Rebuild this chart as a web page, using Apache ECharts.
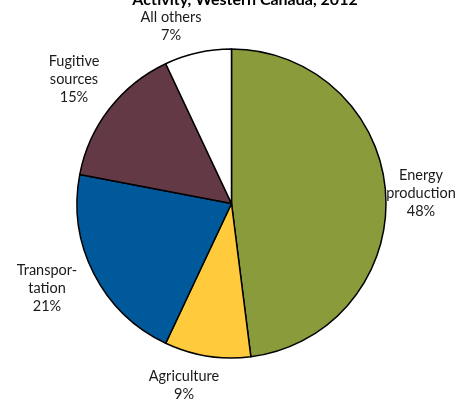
<!DOCTYPE html>
<html><head><meta charset="utf-8">
<script src="https://cdn.jsdelivr.net/npm/echarts@6/dist/echarts.min.js"></script>
<style>html,body{margin:0;padding:0;background:#fff}#c{width:469px;height:399px}</style>
</head><body><div id="c"></div>
<script>
const categories = ['Energy\nproduction', 'Agriculture', 'Transpor-\ntation', 'Fugitive\nsources', 'All others'];
const values = [48, 9, 21, 15, 7];
const colors = ['#8A9B3C', '#FFCB3D', '#00599B', '#633945', '#FFFFFF'];
const labelPos = [[421, 193], [184, 385], [47, 288], [74, 79], [171, 26]];

const chart = echarts.init(document.getElementById('c'), null, {renderer: 'canvas'});
chart.setOption({
  animation: false,
  title: {
    text: 'Activity, Western Canada, 2012',
    left: 240, textAlign: 'center', top: -13,
    textStyle: {fontFamily: 'Lato', fontWeight: 'bold', fontSize: 16, color: '#000'}
  },
  series: [{
    type: 'pie',
    center: [231.5, 203.5],
    radius: [0, 154.5],
    startAngle: 90,
    clockwise: true,
    silent: true,
    itemStyle: {borderColor: '#000', borderWidth: 1.5},
    label: {
      show: true, position: 'outside', overflow: 'none',
      formatter: p => p.name + '\n' + p.value + '%',
      fontFamily: 'Lato', fontSize: 14.5, lineHeight: 18, color: '#1a1a1a'
    },
    labelLine: {show: false},
    labelLayout: p => ({x: labelPos[p.dataIndex][0], y: labelPos[p.dataIndex][1], align: 'center', verticalAlign: 'middle', width: 120}),
    data: categories.map((c, i) => ({name: c, value: values[i], itemStyle: {color: colors[i]}}))
  }]
});
</script></body></html>
